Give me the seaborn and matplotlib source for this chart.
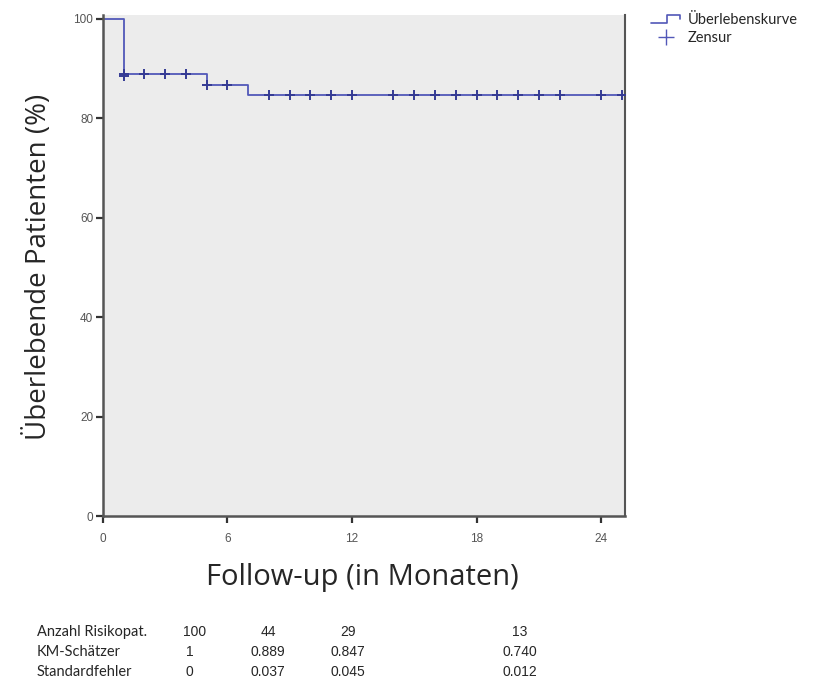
import matplotlib
matplotlib.use("Agg")
import matplotlib.pyplot as plt
import pandas as pd
import seaborn as sns
from matplotlib.legend_handler import HandlerBase
from matplotlib.lines import Line2D

# Kaplan-Meier Stufen (Monate, Überleben in %)
step_months = [0, 1, 5, 7, 25.15]
step_surv = [100, 88.9, 86.8, 84.7, 84.7]

# Zensierte Patienten
censor_months = [1, 1, 2, 3, 4, 5, 6, 8, 9, 10, 11, 12, 14, 15, 16, 17, 18, 19, 20, 21, 22, 24, 25]
censor_surv = [88.9, 88.5, 88.9, 88.9, 88.9, 86.8, 86.8] + [84.7] * 16

# Tabelle unter der Grafik
row_labels = ["Anzahl Risikopat.", "KM-Schätzer", "Standardfehler"]
risk_counts = ["100", "44", "29", "13"]
km_values = ["1", "0.889", "0.847", "0.740"]
se_values = ["0", "0.037", "0.045", "0.012"]

x_ticks = [0, 6, 12, 18, 24]
y_ticks = [0, 20, 40, 60, 80, 100]

line_col = "#5258b8"
mark_col = "#353b94"

sns.set_style("ticks")
plt.rcParams["font.family"] = ["Liberation Sans", "DejaVu Sans"]

fig = plt.figure(figsize=(8.18, 6.84), dpi=100)
ax = fig.add_axes([0.1259, 0.2456, 0.638, 0.7325])
ax.set_facecolor("#ececec")

df_steps = pd.DataFrame({"month": step_months, "surv": step_surv})
df_cens = pd.DataFrame({"month": censor_months, "surv": censor_surv})

sns.lineplot(data=df_steps, x="month", y="surv", drawstyle="steps-post",
             color=line_col, linewidth=1.3, ax=ax, estimator=None, sort=False)
sns.scatterplot(data=df_cens, x="month", y="surv", marker="+", s=45,
                color=mark_col, linewidth=1.4, ax=ax, zorder=3)

ax.set_xlim(0, 25.15)
ax.set_ylim(0, 100.8)
ax.set_xticks(x_ticks)
ax.set_yticks(y_ticks)
ax.tick_params(axis="both", labelsize=8.5, colors="#333333", length=5, width=1.6,
               labelcolor="#555555")
ax.tick_params(axis="x", pad=7)
ax.tick_params(axis="y", pad=2)
for side in ["left", "bottom", "right"]:
    ax.spines[side].set_color("#555555")
    ax.spines[side].set_linewidth(1.8)
ax.spines["right"].set_linewidth(1.5)
ax.spines["top"].set_visible(False)

ax.set_xlabel("")
ax.set_ylabel("")
fig.text(0.443, 0.155, "Follow-up (in Monaten)", fontsize=21, ha="center", va="center",
         family=["Open Sans", "DejaVu Sans"])
fig.text(0.047, 0.61, "Überlebende Patienten (%)", fontsize=20, ha="center", va="center",
         rotation=90, family=["Open Sans", "DejaVu Sans"])


class StepHandler(HandlerBase):
    def create_artists(self, legend, orig_handle, xdescent, ydescent, width, height, fontsize, trans):
        x0, x1 = -xdescent, -xdescent + width
        xm = x0 + width * 0.55
        lo, hi = -ydescent + height * 0.15, -ydescent + height * 0.85
        ln = Line2D([x0, xm, xm, x1, x1], [lo, lo, hi, hi, hi - height * 0.3],
                    color=line_col, linewidth=1.2, transform=trans)
        return [ln]


step_handle = Line2D([], [], color=line_col)
cens_handle = Line2D([], [], color=line_col, marker="+", linestyle="none",
                     markersize=11, markeredgewidth=1.0)
fig.legend([step_handle, cens_handle], ["Überlebenskurve", "Zensur"],
           handler_map={step_handle: StepHandler()},
           loc="upper left", bbox_to_anchor=(0.78, 1.0), frameon=False,
           prop={"family": "Lato", "size": 10.5}, handlelength=2.0,
           handletextpad=0.5, labelspacing=0.3)

# Tabelle
row_y = [0.076, 0.047, 0.018]
col_x = [0.238, 0.328, 0.425, 0.635]
for ry, lab, vals in zip(row_y, row_labels, [risk_counts, km_values, se_values]):
    fig.text(0.045, ry, lab, fontsize=10.5, ha="left", va="center",
             family=["Lato", "DejaVu Sans"])
    for i, (cx, v) in enumerate(zip(col_x, vals)):
        dx = 0
        if i == 0 and v != "100":
            dx = -0.006
        fig.text(cx + dx, ry, v, fontsize=10, ha="center", va="center",
                 family=["Liberation Sans", "DejaVu Sans"])

fig.savefig("out.png", dpi=100)
